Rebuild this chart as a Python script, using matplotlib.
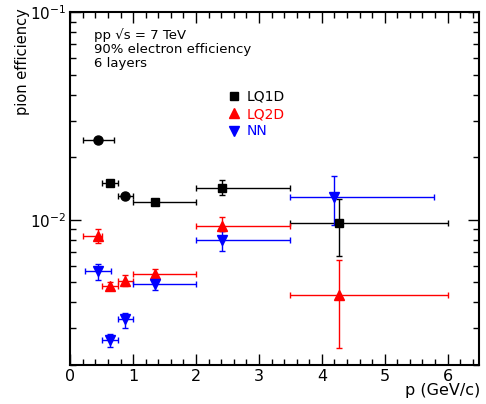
import matplotlib
matplotlib.use("Agg")
import matplotlib.pyplot as plt
from matplotlib.ticker import MultipleLocator, LogLocator, NullFormatter
import numpy as np

# DATA
# -----------
# LQ1D squares
sq_x = [0.625, 1.344, 2.419, 4.281]
sq_xlo = [0.50, 1.0, 2.0, 3.5]
sq_xhi = [0.76, 2.0, 3.5, 6.0]
sq_y = [0.01503, 0.01222, 0.01426, 0.00967]
sq_ylo = [0.01485, 0.01205, 0.01309, 0.00673]
sq_yhi = [0.01520, 0.01240, 0.01549, 0.01262]

# black circles
ci_x = [0.444, 0.868]
ci_xlo = [0.20, 0.76]
ci_xhi = [0.70, 1.0]
ci_y = [0.0242, 0.01306]

# LQ2D
lq2_x = [0.444, 0.625, 0.868, 1.344, 2.419, 4.281]
lq2_xlo = [0.20, 0.50, 0.76, 1.0, 2.0, 3.5]
lq2_xhi = [0.51, 0.76, 1.0, 2.0, 3.5, 6.0]
lq2_y = [0.00834, 0.00482, 0.00508, 0.00547, 0.00935, 0.00436]
lq2_ylo = [0.00775, 0.00461, 0.00478, 0.00524, 0.00887, 0.00242]
lq2_yhi = [0.00901, 0.00504, 0.00543, 0.00578, 0.01037, 0.00637]

# NN
nn_x = [0.444, 0.63, 0.868, 1.344, 2.419, 4.20]
nn_xlo = [0.24, 0.50, 0.76, 1.0, 2.0, 3.5]
nn_xhi = [0.65, 0.76, 1.0, 2.0, 3.5, 5.79]
nn_y = [0.00569, 0.00265, 0.00332, 0.00493, 0.00801, 0.01285]
nn_ylo = [0.00514, 0.00243, 0.00302, 0.00461, 0.00706, 0.00940]
nn_yhi = [0.00614, 0.00282, 0.00356, 0.00515, 0.00887, 0.01618]

legend_labels = ["LQ1D", "LQ2D", "NN"]
info_lines = ["pp \u221as = 7 TeV", "90% electron efficiency", "6 layers"]


def errs(x, lo, hi):
    x = np.array(x)
    return [x - np.array(lo), np.array(hi) - x]


# PLOT
# -----------
fig = plt.figure(figsize=(4.86, 4.04), dpi=100)
ax = fig.add_axes([0.1447, 0.0965, 0.8409, 0.8738])

kw = dict(linestyle="none", elinewidth=1.0, capsize=2, capthick=1.0)
ax.errorbar(ci_x, ci_y, xerr=errs(ci_x, ci_xlo, ci_xhi), marker="o",
            ms=6.5, color="black", **kw)
h1 = ax.errorbar(sq_x, sq_y, xerr=errs(sq_x, sq_xlo, sq_xhi),
                 yerr=errs(sq_y, sq_ylo, sq_yhi), marker="s", ms=6,
                 color="black", **kw)
h2 = ax.errorbar(lq2_x, lq2_y, xerr=errs(lq2_x, lq2_xlo, lq2_xhi),
                 yerr=errs(lq2_y, lq2_ylo, lq2_yhi), marker="^", ms=7,
                 color="#ff0000", **kw)
h3 = ax.errorbar(nn_x, nn_y, xerr=errs(nn_x, nn_xlo, nn_xhi),
                 yerr=errs(nn_y, nn_ylo, nn_yhi), marker="v", ms=7,
                 color="#0000ff", **kw)

ax.set_yscale("log")
ax.set_xlim(0, 6.5)
ax.set_ylim(0.002, 0.1)

ax.xaxis.set_major_locator(MultipleLocator(1))
ax.xaxis.set_minor_locator(MultipleLocator(0.2))
ax.yaxis.set_major_locator(LogLocator(base=10, numticks=10))
ax.yaxis.set_minor_locator(LogLocator(base=10, subs=np.arange(2, 10), numticks=20))
ax.yaxis.set_minor_formatter(NullFormatter())

ax.tick_params(which="both", direction="in", top=True, right=True, width=1.0)
ax.tick_params(which="major", length=8)
ax.tick_params(which="minor", length=4)
ax.tick_params(axis="x", labelsize=11.5, pad=3)
ax.tick_params(axis="y", labelsize=11, pad=3)
for s in ax.spines.values():
    s.set_linewidth(1.5)

# axis titles placed like the original (ROOT style)
fig.text(480 / 486, 1 - 391 / 404, "p (GeV/c)", fontsize=11.5,
         ha="right", va="center")
fig.text(22 / 486, 1 - 8 / 404, "pion efficiency", fontsize=10.5,
         rotation=90, ha="center", va="top")

# info text
for i, t in enumerate(info_lines):
    ax.text(0.058, 0.935 - i * 0.04, t, transform=ax.transAxes,
            fontsize=9.5, va="center")

# legend
leg = ax.legend([h1[0], h2[0], h3[0]], legend_labels, loc="upper left",
                bbox_to_anchor=(0.37, 0.80), frameon=False, fontsize=10,
                handlelength=0.8, handletextpad=0.5, labelspacing=0.25,
                borderpad=0)
for txt, c in zip(leg.get_texts(), ["black", "#ff0000", "#0000ff"]):
    txt.set_color(c)

plt.savefig("out.png", dpi=100)
